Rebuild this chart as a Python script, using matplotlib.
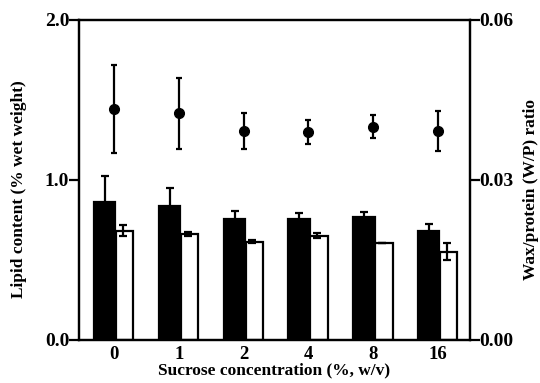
import numpy as np
import matplotlib.pyplot as plt

plt.rcParams.update({
    'font.family': ['Liberation Serif', 'DejaVu Serif'],
    'font.weight': 'bold',
    'axes.labelweight': 'bold',
    'font.size': 12.5,
    'xtick.labelsize': 13.5,
    'ytick.labelsize': 14,
})

# data
sucrose = ['0', '1', '2', '4', '8', '16']
lipid_black = [0.865, 0.84, 0.756, 0.756, 0.77, 0.683]
lipid_black_err = [0.16, 0.11, 0.05, 0.035, 0.03, 0.045]
lipid_white = [0.683, 0.662, 0.615, 0.652, 0.604, 0.552]
lipid_white_err = [0.035, 0.015, 0.008, 0.015, 0.0, 0.055]
wp_ratio = [0.0433, 0.0425, 0.0392, 0.0390, 0.0400, 0.0392]
wp_err = [0.0082, 0.0067, 0.0034, 0.0023, 0.0021, 0.0038]

x = np.arange(len(sucrose))
lw = 1.6

fig = plt.figure(figsize=(5.4, 3.83), dpi=100)
ax = fig.add_axes([0.1463, 0.1123, 0.7237, 0.8355])

ax.bar(x - 0.145, lipid_black, width=0.33, color='black', edgecolor='black',
       linewidth=lw, zorder=2)
ax.errorbar(x - 0.14, lipid_black, yerr=lipid_black_err, fmt='none',
            ecolor='black', elinewidth=lw, capsize=2.6, capthick=lw, zorder=3)
ax.bar(x + 0.165, lipid_white, width=0.27, color='white', edgecolor='black',
       linewidth=lw, zorder=2)
ax.errorbar(x + 0.135, lipid_white, yerr=lipid_white_err, fmt='none',
            ecolor='black', elinewidth=lw, capsize=2.6, capthick=lw, zorder=3)

ax.set_xlim(-0.54, 5.49)
ax.set_ylim(0, 2.0)
ax.set_yticks([0.0, 1.0, 2.0])
ax.set_yticklabels(['0.0', '1.0', '2.0'])
ax.set_xticks(x)
ax.set_xticklabels(sucrose)
ax.tick_params(axis='x', length=0, pad=4)
ax.tick_params(axis='y', direction='out', length=7, width=lw, pad=0)
for s in ax.spines.values():
    s.set_linewidth(lw)
ax.set_xlabel('Sucrose concentration (%, w/v)', labelpad=0)
ax.set_ylabel('Lipid content (% wet weight)')
ax.yaxis.set_label_coords(-0.133, 0.47)

ax2 = ax.twinx()
ax2.errorbar(x, wp_ratio, yerr=wp_err, fmt='o', color='black', markersize=7,
             elinewidth=lw, capsize=2.4, capthick=lw)
ax2.set_ylim(0, 0.06)
ax2.set_yticks([0.0, 0.03, 0.06])
ax2.set_yticklabels(['0.00', '0.03', '0.06'])
ax2.tick_params(axis='y', direction='out', length=7, width=lw, pad=0)
for s in ax2.spines.values():
    s.set_linewidth(lw)
ax2.set_ylabel('Wax/protein (W/P) ratio')
ax2.yaxis.set_label_coords(1.1355, 0.47)

fig.savefig('out.png', dpi=100)
